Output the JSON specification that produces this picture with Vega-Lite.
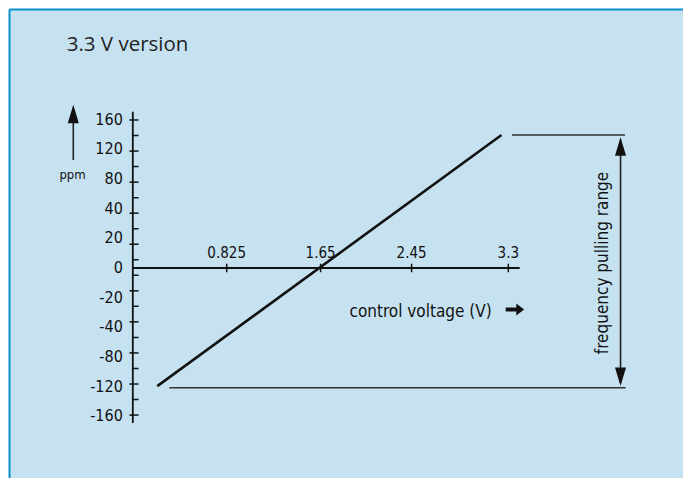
{
  "$schema": "https://vega.github.io/schema/vega-lite/v6.json",
  "width": 674,
  "height": 469,
  "autosize": {"type": "none"},
  "padding": {"left": 9, "top": 9, "right": 0, "bottom": 0},
  "background": "#ffffff",
  "config": {
    "view": {"fill": "#c6e2f1", "stroke": null},
    "axis": {"labels": false, "ticks": false, "grid": false, "domainColor": "#0a8fcc", "domainWidth": 2}
  },
  "encoding": {
    "x": {"field": "x", "type": "quantitative", "scale": {"domain": [-1.088, 4.835], "nice": false, "zero": false}, "axis": {"orient": "top", "title": null}},
    "y": {"field": "y", "type": "quantitative", "scale": {"domain": [-7.078, 8.729], "nice": false, "zero": false}, "axis": {"orient": "left", "title": null}}
  },
  "layer": [
    {
      "data": {"values": [{"x": 0, "y": -5.224, "y2": 5.263}]},
      "mark": {"type": "rule", "color": "#111111", "strokeWidth": 1.8},
      "encoding": {"y2": {"field": "y2"}}
    },
    {
      "data": {"values": [{"x": 0, "x2": 3.4, "y": 0}]},
      "mark": {"type": "rule", "color": "#111111", "strokeWidth": 1.8},
      "encoding": {"x2": {"field": "x2"}}
    },
    {
      "data": {"values": [{"x": 0, "y": 4.988}, {"x": 0, "y": 3.941}, {"x": 0, "y": 2.894}, {"x": 0, "y": 1.848}, {"x": 0, "y": 0.801}, {"x": 0, "y": -0.769}, {"x": 0, "y": -1.816}, {"x": 0, "y": -2.863}, {"x": 0, "y": -3.91}, {"x": 0, "y": -4.957}]},
      "mark": {"type": "tick", "orient": "horizontal", "color": "#111111", "size": 9, "thickness": 1.5, "xOffset": 1.2, "opacity": 1}
    },
    {
      "data": {"values": [{"x": 0, "y": 4.465}, {"x": 0, "y": 3.418}, {"x": 0, "y": 2.371}, {"x": 0, "y": 1.324}, {"x": 0, "y": 0.277}, {"x": 0, "y": -0.246}, {"x": 0, "y": -1.293}, {"x": 0, "y": -2.34}, {"x": 0, "y": -3.386}, {"x": 0, "y": -4.433}]},
      "mark": {"type": "tick", "orient": "horizontal", "color": "#111111", "size": 5.7, "thickness": 1.5, "xOffset": 2.85, "opacity": 1}
    },
    {
      "data": {"values": [{"x": 0.825, "y": 0}, {"x": 1.65, "y": 0}, {"x": 2.45, "y": 0}, {"x": 3.3, "y": 0}]},
      "mark": {"type": "tick", "orient": "vertical", "color": "#111111", "size": 8.5, "thickness": 1.5, "opacity": 1}
    },
    {
      "data": {"values": [
        {"x": 0, "y": 5, "label": "160"}, {"x": 0, "y": 4, "label": "120"}, {"x": 0, "y": 3, "label": "80"}, {"x": 0, "y": 2, "label": "40"},
        {"x": 0, "y": 1, "label": "20"}, {"x": 0, "y": 0, "label": "0"}, {"x": 0, "y": -1, "label": "-20"}, {"x": 0, "y": -2, "label": "-40"},
        {"x": 0, "y": -3, "label": "-80"}, {"x": 0, "y": -4, "label": "-120"}, {"x": 0, "y": -5, "label": "-160"}
      ]},
      "mark": {"type": "text", "align": "right", "baseline": "middle", "dx": -10, "fontSize": 16, "font": "DejaVu Sans Condensed, sans-serif", "color": "#111111"},
      "encoding": {"text": {"field": "label"}}
    },
    {
      "data": {"values": [{"x": 0.825, "y": 0, "label": "0.825"}, {"x": 1.65, "y": 0, "label": "1.65"}, {"x": 2.45, "y": 0, "label": "2.45"}, {"x": 3.3, "y": 0, "label": "3.3"}]},
      "mark": {"type": "text", "align": "center", "baseline": "alphabetic", "dy": -10, "fontSize": 15, "font": "DejaVu Sans Condensed, sans-serif", "color": "#111111"},
      "encoding": {"text": {"field": "label"}}
    },
    {
      "data": {"values": [{"x": 0.215, "y": -3.98}, {"x": 3.24, "y": 4.48}]},
      "mark": {"type": "line", "color": "#111111", "strokeWidth": 2.6},
      "encoding": {}
    },
    {
      "data": {"values": [{"x": 3.332, "x2": 4.325, "y": 4.483}, {"x": 0.321, "x2": 4.331, "y": -4.034}]},
      "mark": {"type": "rule", "color": "#333333", "strokeWidth": 1.6},
      "encoding": {"x2": {"field": "x2"}}
    },
    {
      "data": {"values": [{"x": 4.286, "y": 4.3, "y2": -3.87}, {"x": -0.523, "y": 3.64, "y2": 4.9}]},
      "mark": {"type": "rule", "color": "#222222", "strokeWidth": 1.6},
      "encoding": {"y2": {"field": "y2"}}
    },
    {
      "data": {"values": [{"x": 4.286, "y": 4.092, "dir": "up"}, {"x": 4.286, "y": -3.667, "dir": "down"}, {"x": -0.523, "y": 5.19, "dir": "up"}, {"x": 3.358, "y": -1.399, "dir": "right"}]},
      "mark": {"type": "point", "filled": true, "opacity": 1, "color": "#111111", "strokeWidth": 0},
      "encoding": {
        "shape": {"field": "dir", "type": "nominal", "legend": null, "scale": {"domain": ["up", "down", "right"], "range": ["M0,-1L0.6,1L-0.6,1Z", "M0,1L0.6,-1L-0.6,-1Z", "M-1,-0.23L0.15,-0.23L0.15,-0.66L1,0L0.15,0.66L0.15,0.23L-1,0.23Z"]}},
        "size": {"field": "dir", "type": "nominal", "legend": null, "scale": {"domain": ["up", "down", "right"], "range": [340, 340, 707]}}
      }
    },
    {
      "data": {"values": [{"x": -0.581, "y": 7.324, "label": "3.3 V version"}]},
      "mark": {"type": "text", "align": "left", "baseline": "alphabetic", "fontSize": 20.5, "font": "Open Sans, sans-serif", "color": "#222222"},
      "encoding": {"text": {"field": "label"}}
    },
    {
      "data": {"values": [{"x": -0.414, "y": 3.0, "label": "ppm"}]},
      "mark": {"type": "text", "align": "right", "baseline": "alphabetic", "fontSize": 13, "font": "DejaVu Sans Condensed, sans-serif", "color": "#111111"},
      "encoding": {"text": {"field": "label"}}
    },
    {
      "data": {"values": [{"x": 3.154, "y": -1.662, "label": "control voltage (V)"}]},
      "mark": {"type": "text", "align": "right", "baseline": "alphabetic", "fontSize": 17, "font": "DejaVu Sans Condensed, sans-serif", "color": "#111111"},
      "encoding": {"text": {"field": "label"}}
    },
    {
      "data": {"values": [{"x": 4.176, "y": 0.168, "label": "frequency pulling range"}]},
      "mark": {"type": "text", "align": "center", "baseline": "alphabetic", "angle": 270, "fontSize": 17, "font": "DejaVu Sans Condensed, sans-serif", "color": "#111111"},
      "encoding": {"text": {"field": "label"}}
    }
  ]
}
